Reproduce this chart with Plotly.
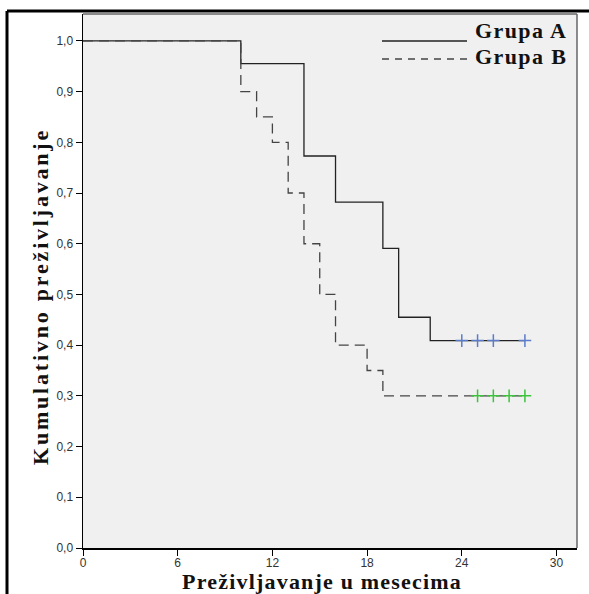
import plotly.graph_objects as go

# Kaplan-Meier step data
a_time = [0, 10, 14, 16, 19, 20, 22, 28]
a_surv = [1.0, 0.955, 0.773, 0.682, 0.591, 0.455, 0.409, 0.409]
b_time = [0, 10, 11, 12, 13, 14, 15, 16, 18, 19, 28]
b_surv = [1.0, 0.90, 0.85, 0.80, 0.70, 0.60, 0.50, 0.40, 0.35, 0.30, 0.30]

# censored observations
a_cens_t = [24, 25, 26, 28]
a_cens_s = [0.409, 0.409, 0.409, 0.409]
b_cens_t = [25, 26, 27, 28]
b_cens_s = [0.30, 0.30, 0.30, 0.30]

x_ticks = [0, 6, 12, 18, 24, 30]
y_ticks = [0.0, 0.1, 0.2, 0.3, 0.4, 0.5, 0.6, 0.7, 0.8, 0.9, 1.0]

group_names = ["Grupa A", "Grupa B"]
x_title = "Preživljavanje u mesecima"
y_title = "Kumulativno preživljavanje"

serif = "Liberation Serif, Times New Roman, serif"
a_color = "#222222"
b_color = "#444444"

fig = go.Figure()
fig.add_trace(go.Scatter(x=a_time, y=a_surv, mode="lines", line_shape="hv",
                         line=dict(color=a_color, width=1.3), name=group_names[0],
                         showlegend=False, hoverinfo="skip"))
fig.add_trace(go.Scatter(x=b_time, y=b_surv, mode="lines", line_shape="hv",
                         line=dict(color=b_color, width=1.3, dash="10px,6px"),
                         name=group_names[1], showlegend=False, hoverinfo="skip"))
fig.add_trace(go.Scatter(x=a_cens_t, y=a_cens_s, mode="markers", showlegend=False,
                         hoverinfo="skip",
                         marker=dict(symbol="cross-thin", size=9,
                                     line=dict(color="#5b7ccb", width=1.5))))
fig.add_trace(go.Scatter(x=b_cens_t, y=b_cens_s, mode="markers", showlegend=False,
                         hoverinfo="skip",
                         marker=dict(symbol="cross-thin", size=9,
                                     line=dict(color="#3cc43c", width=1.5))))

L, R, T, B = 83, 12, 14, 46
W, H = 589, 594
pw, ph = W - L - R, H - T - B

def px(x):
    return (x - L) / pw

def py(y):
    return (H - B - y) / ph

def spaced(text, sp):
    return '<b><span style="letter-spacing:%spx">%s</span></b>' % (sp, text)

title_font = dict(family=serif, size=22, color="#111111")
legend_font = dict(family=serif, size=22, color="#111111")

annotations = [
    dict(text=spaced(x_title, 1.2), xref="paper", yref="paper",
         x=px(322), y=py(581), xanchor="center", yanchor="middle",
         showarrow=False, font=title_font),
    dict(text=spaced(y_title, 2.8), xref="paper", yref="paper",
         x=px(40), y=py(297), xanchor="center", yanchor="middle", textangle=-90,
         showarrow=False, font=title_font),
    dict(text=spaced(group_names[0], 1.4), xref="paper", yref="paper",
         x=px(473), y=py(31), xanchor="left", yanchor="middle",
         showarrow=False, font=legend_font),
    dict(text=spaced(group_names[1], 1.4), xref="paper", yref="paper",
         x=px(473), y=py(57), xanchor="left", yanchor="middle",
         showarrow=False, font=legend_font),
]

fig.update_layout(
    width=W, height=H,
    margin=dict(l=L, r=R, t=T, b=B, autoexpand=False),
    paper_bgcolor="white",
    plot_bgcolor="#f0f0f0",
    separators=",.",
    font=dict(family="Liberation Sans, Arial, sans-serif", size=12, color="#333333"),
    showlegend=False,
    hovermode=False,
    xaxis=dict(range=[0, 31.3], tickvals=x_ticks, ticks="outside", ticklen=6,
               tickcolor="black", showline=True, linecolor="black", linewidth=1.5,
               showgrid=False, zeroline=False, automargin=False, ticklabelstandoff=-3,
               tickfont=dict(size=12, color="#333333")),
    yaxis=dict(range=[0, 1.053], tickvals=y_ticks, tickformat=".1f", ticks="outside",
               ticklen=6, tickcolor="black", showline=True, linecolor="black", linewidth=1.5,
               showgrid=False, zeroline=False, automargin=False,
               tickfont=dict(size=12, color="#333333")),
    annotations=annotations,
    shapes=[
        dict(type="line", xref="paper", yref="paper", x0=0, x1=1, y0=1, y1=1,
             line=dict(color="#666666", width=1.5)),
        dict(type="line", xref="paper", yref="paper", x0=1, x1=1, y0=0, y1=1,
             line=dict(color="#666666", width=1.5)),
        dict(type="line", xref="paper", yref="paper", x0=px(7), x1=px(589),
             y0=py(11), y1=py(11), line=dict(color="black", width=3)),
        dict(type="line", xref="paper", yref="paper", x0=px(7), x1=px(7),
             y0=py(11), y1=py(594), line=dict(color="black", width=3)),
        # legend line samples
        dict(type="line", xref="paper", yref="paper", x0=px(382), x1=px(467),
             y0=py(41), y1=py(41), line=dict(color=a_color, width=1.3)),
        dict(type="line", xref="paper", yref="paper", x0=px(382), x1=px(467),
             y0=py(59), y1=py(59), line=dict(color=b_color, width=1.3, dash="7px,6px")),
    ],
)

fig.write_html("out.html",
               config={"displayModeBar": False, "staticPlot": True},
               post_script="document.body.style.margin='0';"
                           "document.body.style.overflow='hidden';")
